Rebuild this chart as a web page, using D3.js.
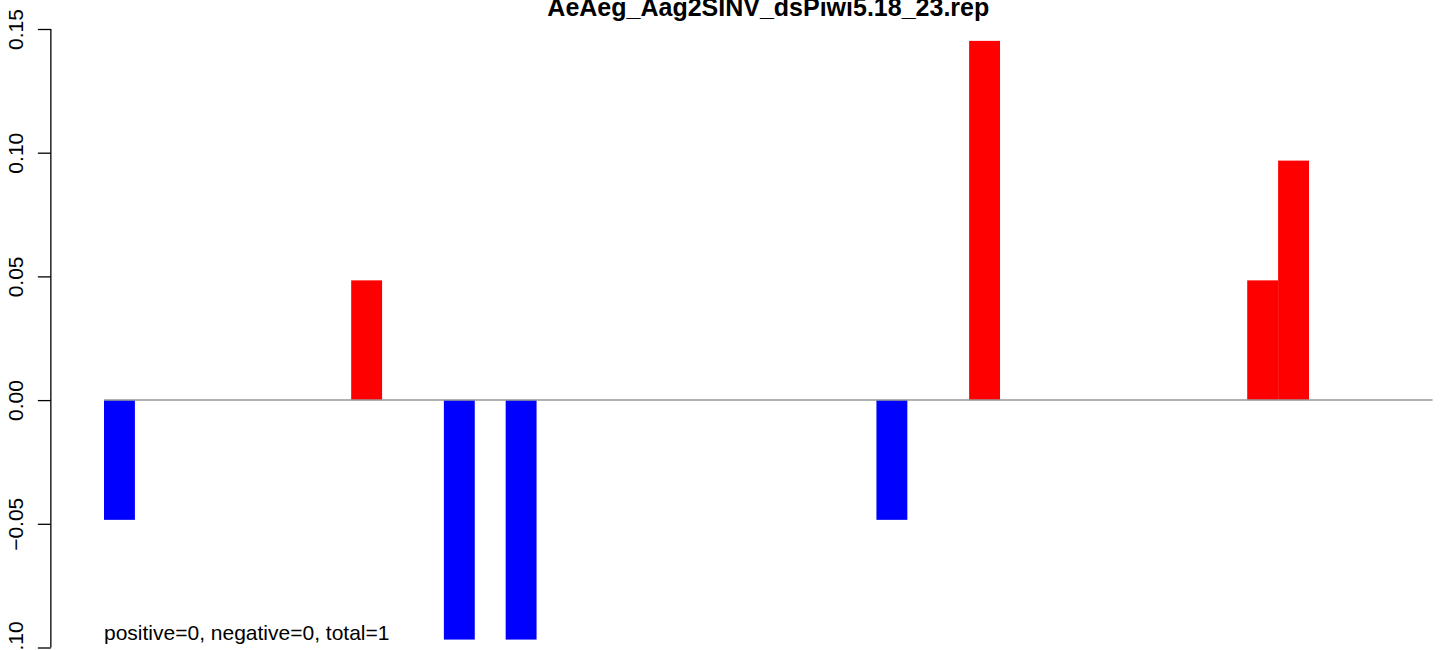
<!DOCTYPE html>
<html>
<head>
<meta charset="utf-8">
<script src="https://cdn.jsdelivr.net/npm/d3@7"></script>
<style>
  html, body { margin: 0; padding: 0; background: #fff; }
  svg { display: block; font-family: "Liberation Sans", Arial, Helvetica, sans-serif; }
</style>
</head>
<body>
<svg id="chart" width="1444" height="650"></svg>
<script>
const title = "AeAeg_Aag2SINV_dsPiwi5.18_23.rep";
const note = "positive=0, negative=0, total=1";
// one value per position (43 positions)
const values = [
  -0.0484, 0, 0, 0, 0, 0, 0, 0, 0.0484, 0,
  0, -0.0968, 0, -0.0968, 0, 0, 0, 0, 0, 0,
  0, 0, 0, 0, 0, -0.0484, 0, 0, 0.1452, 0,
  0, 0, 0, 0, 0, 0, 0, 0.0484, 0.0968, 0,
  0, 0, 0
];
const yTicks = [-0.10, -0.05, 0.00, 0.05, 0.10, 0.15];
const yTickLabels = ["\u22120.10", "\u22120.05", "0.00", "0.05", "0.10", "0.15"];

const svg = d3.select("#chart");

const x = d3.scaleLinear().domain([0, values.length]).range([104, 1432.6]);
const y = d3.scaleLinear().domain([-0.10, 0.15]).range([647.5, 29]);
// plot region (R style, 4% extension) centre for title
const plotLeft = x(0) - 0.04 * (x(values.length) - x(0));
const plotRight = x(values.length) + 0.04 * (x(values.length) - x(0));

// bars
svg.append("g").selectAll("rect")
  .data(values.map((v, i) => ({ i, v })).filter(d => d.v !== 0))
  .join("rect")
  .attr("x", d => x(d.i))
  .attr("width", d => x(d.i + 1) - x(d.i))
  .attr("y", d => Math.min(y(d.v), y(0)))
  .attr("height", d => Math.abs(y(d.v) - y(0)))
  .attr("fill", d => d.v > 0 ? "#ff0000" : "#0000ff");

// zero line
svg.append("line")
  .attr("x1", x(0)).attr("x2", x(values.length))
  .attr("y1", y(0)).attr("y2", y(0))
  .attr("stroke", "#999999").attr("stroke-width", 1.5);

// y axis
const yAxis = d3.axisLeft(y)
  .tickValues(yTicks)
  .tickSize(13)
  .tickPadding(0)
  .tickFormat((d, i) => yTickLabels[i]);
const gy = svg.append("g")
  .attr("transform", `translate(${plotLeft},0)`)
  .call(yAxis);
gy.select(".domain")
  .attr("d", `M0,${y(0.15)}V${y(-0.10)}`)
  .attr("stroke", "#000").attr("stroke-width", 1.3);
gy.selectAll(".tick line").attr("stroke", "#000").attr("stroke-width", 1.3);
gy.selectAll(".tick text")
  .attr("x", null).attr("dy", null)
  .attr("transform", `translate(-28,0) rotate(-90)`)
  .attr("text-anchor", "middle")
  .attr("font-size", 21)
  .attr("fill", "#000")
  .attr("font-family", "Liberation Sans, Arial, sans-serif");

// title
svg.append("text")
  .attr("x", (plotLeft + plotRight) / 2)
  .attr("y", 16)
  .attr("text-anchor", "middle")
  .attr("font-size", 25)
  .attr("font-weight", "bold")
  .text(title);

// note
svg.append("text")
  .attr("x", x(0))
  .attr("y", 640)
  .attr("font-size", 21)
  .text(note);
</script>
</body>
</html>
